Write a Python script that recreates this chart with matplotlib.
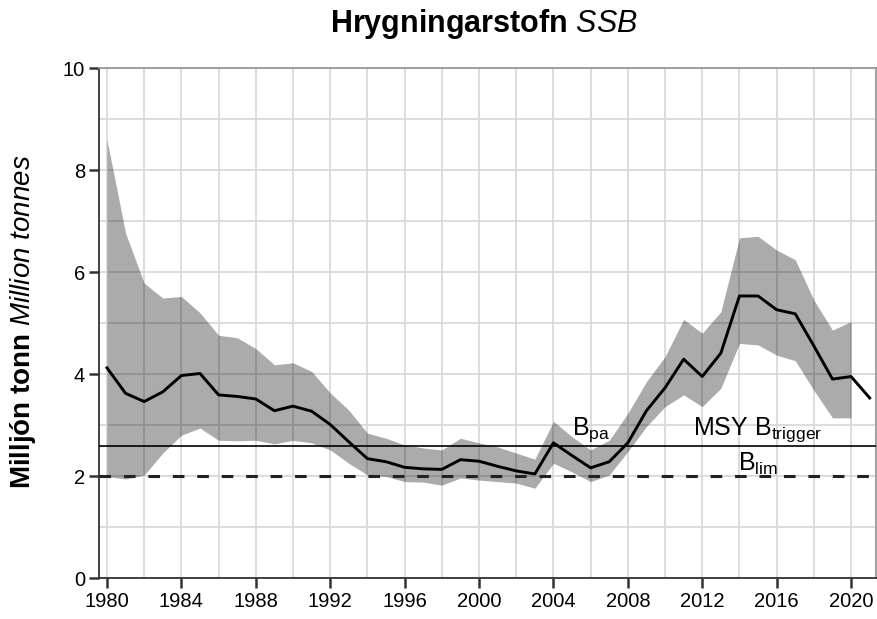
import numpy as np
import matplotlib
matplotlib.use('Agg')
import matplotlib.pyplot as plt
from matplotlib.ticker import MultipleLocator

plt.rcParams['font.family'] = 'Liberation Sans'
plt.rcParams['mathtext.fontset'] = 'custom'
plt.rcParams['mathtext.rm'] = 'Liberation Sans'
plt.rcParams['mathtext.it'] = 'Liberation Sans:italic'
plt.rcParams['mathtext.bf'] = 'Liberation Sans:bold'

# gögn - lesin af myndinni
years = np.arange(1980, 2022)
ssb = [4.12, 3.62, 3.46, 3.65, 3.97, 4.01, 3.59, 3.56, 3.51, 3.28,
       3.37, 3.27, 3.01, 2.67, 2.34, 2.28, 2.17, 2.14, 2.13, 2.32,
       2.29, 2.19, 2.10, 2.04, 2.65, 2.40, 2.16, 2.28, 2.65, 3.28,
       3.73, 4.29, 3.95, 4.41, 5.53, 5.53, 5.26, 5.18, 4.55, 3.90,
       3.95, 3.53]

band_years = np.arange(1980, 2021)
ssb_high = [8.59, 6.76, 5.78, 5.49, 5.52, 5.20, 4.76, 4.71, 4.50, 4.18,
            4.22, 4.05, 3.63, 3.29, 2.84, 2.74, 2.61, 2.55, 2.51, 2.74,
            2.65, 2.57, 2.45, 2.33, 3.07, 2.77, 2.51, 2.70, 3.23, 3.85,
            4.34, 5.07, 4.80, 5.22, 6.67, 6.70, 6.43, 6.24, 5.45, 4.86,
            5.03]
ssb_low = [1.99, 1.94, 2.02, 2.45, 2.80, 2.94, 2.70, 2.69, 2.70, 2.63,
           2.70, 2.65, 2.51, 2.25, 2.02, 1.99, 1.89, 1.88, 1.82, 1.96,
           1.92, 1.89, 1.86, 1.76, 2.25, 2.08, 1.89, 2.02, 2.48, 2.97,
           3.36, 3.59, 3.36, 3.72, 4.60, 4.57, 4.37, 4.26, 3.68, 3.14,
           3.14]

b_trigger = 2.58
b_lim = 2.0

fig = plt.figure(figsize=(8.77, 6.19), dpi=100)
ax = fig.add_axes([99/877, 1 - 578/619, 777/877, 510/619])

ax.fill_between(band_years, ssb_low, ssb_high, color='black', alpha=0.33,
                linewidth=0, zorder=2)
ax.plot(years, ssb, color='black', lw=2.1, zorder=4)
ax.axhline(b_trigger, color='black', lw=1.2, zorder=3)
ax.axhline(b_lim, color='#222222', lw=2.2, ls=(0, (3.8, 4.2)), zorder=3)

ax.text(2005.0, 2.8, r'B$_{\mathrm{pa}}$', fontsize=18, zorder=5)
ax.text(2011.5, 2.8, r'MSY B$_{\mathrm{trigger}}$', fontsize=18, zorder=5)
ax.text(2013.9, 2.1, r'B$_{\mathrm{lim}}$', fontsize=18, zorder=5)

ax.set_xlim(1979.57, 2021.34)
ax.set_ylim(0, 10)
ax.xaxis.set_major_locator(MultipleLocator(4))
ax.xaxis.set_minor_locator(MultipleLocator(2))
ax.yaxis.set_major_locator(MultipleLocator(2))
ax.yaxis.set_minor_locator(MultipleLocator(1))
ax.grid(True, which='both', color='#d9d9d9', lw=1.3, zorder=0)
ax.set_axisbelow(True)

ax.tick_params(which='major', direction='out', length=7, width=1.8,
               color='#333333', labelsize=14.5, pad=3)
ax.tick_params(which='minor', length=0)

for side in ['left', 'bottom']:
    ax.spines[side].set_color('#333333')
    ax.spines[side].set_linewidth(1.3)
for side in ['top', 'right']:
    ax.spines[side].set_color('#999999')
    ax.spines[side].set_linewidth(1.3)

fig.text(23/877, 1 - 322/619, r'Milljón tonn $\mathit{Million\ tonnes}$',
         fontsize=20, fontweight='bold', rotation=90, ha='center', va='center')
fig.text(484/877, 1 - 32/619, r'Hrygningarstofn $\mathit{SSB}$',
         fontsize=22, fontweight='bold', ha='center', va='baseline')

fig.savefig('out.png', dpi=100)
